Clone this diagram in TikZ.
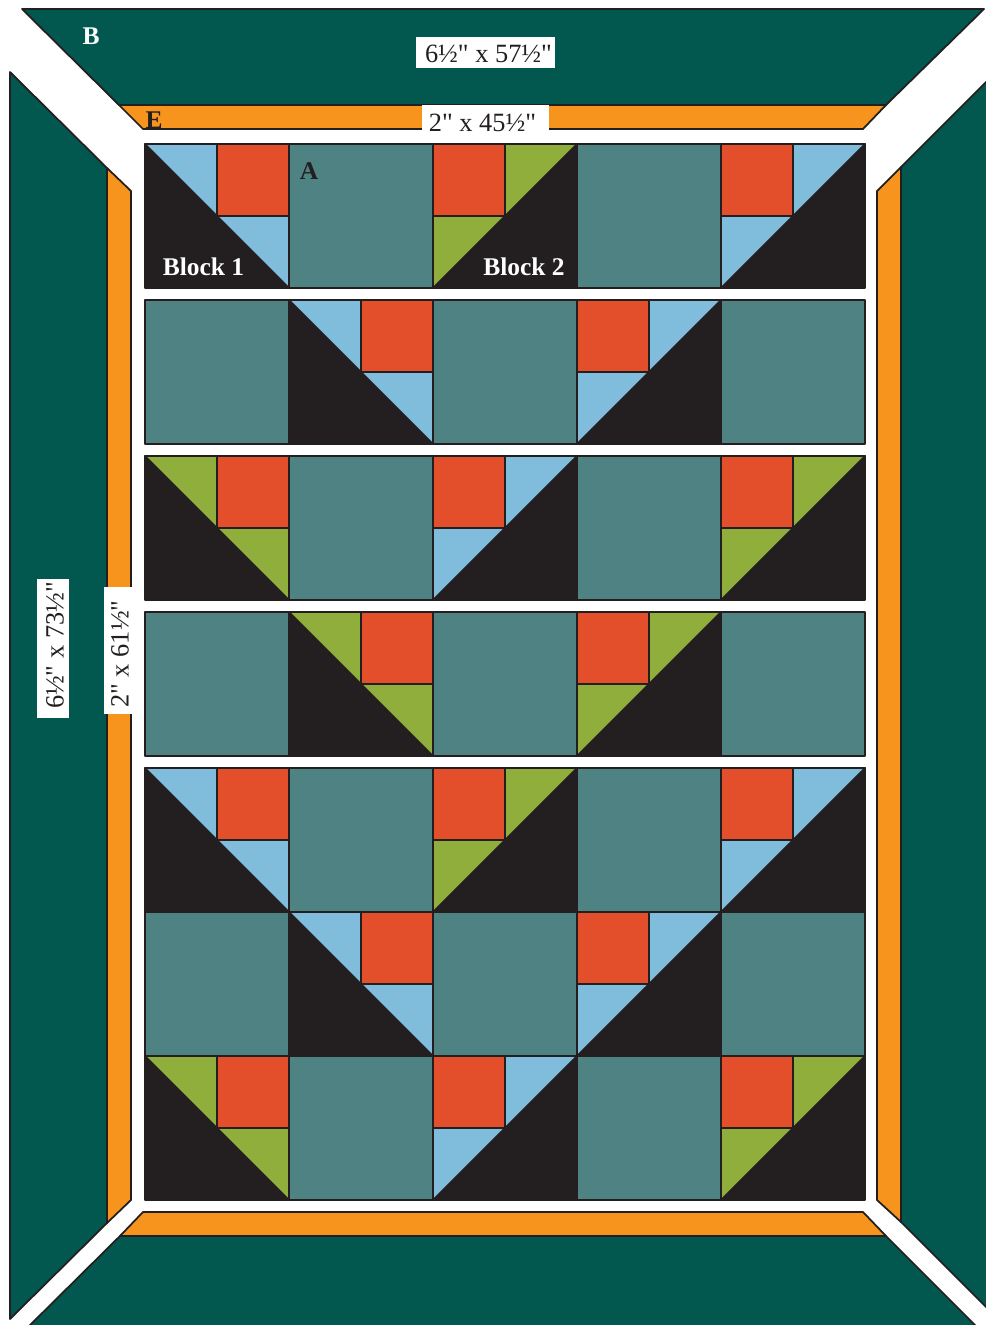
\documentclass[tikz,border=0pt]{standalone}
\usepackage{fontspec}
\setmainfont{Liberation Serif}
\newfontfamily\tagfont{Liberation Serif}
\definecolor{quiltdark}{HTML}{231F20}
\definecolor{quiltborder}{HTML}{02574F}
\definecolor{quiltorange}{HTML}{F7941E}
\definecolor{quiltteal}{HTML}{4F8283}
\definecolor{quiltred}{HTML}{E34E2B}
\definecolor{quiltblue}{HTML}{80BCDB}
\definecolor{quiltgreen}{HTML}{8FAE3C}
\tikzset{
  patch/.style={draw=quiltdark, line width=1pt, line join=round},
  tagbox/.style={fill=white, inner sep=0pt},
  sizetag/.style={inner sep=0pt, text=quiltdark, font=\tagfont\fontsize{15}{15}\selectfont},
  blocktag/.style={inner sep=0pt, font=\fontsize{14.5}{14.5}\selectfont\bfseries}
}
% Bloque con la esquina oscura abajo a la izquierda
\newcommand{\blockleft}[3]{
    \fill[patch, fill=quiltdark] (#1,#2) -- (#1+144,#2+144) -- (#1,#2+144) -- cycle;
    \fill[patch, fill=#3] (#1,#2) -- (#1+72,#2) -- (#1+72,#2+72) -- cycle;
    \fill[patch, fill=quiltred] (#1+72,#2) rectangle (#1+144,#2+72);
    \fill[patch, fill=#3] (#1+72,#2+72) -- (#1+144,#2+72) -- (#1+144,#2+144) -- cycle;
}
% Bloque con la esquina oscura abajo a la derecha
\newcommand{\blockright}[3]{
    \fill[patch, fill=quiltdark] (#1+144,#2) -- (#1+144,#2+144) -- (#1,#2+144) -- cycle;
    \fill[patch, fill=quiltred] (#1,#2) rectangle (#1+72,#2+72);
    \fill[patch, fill=#3] (#1+72,#2) -- (#1+144,#2) -- (#1+72,#2+72) -- cycle;
    \fill[patch, fill=#3] (#1,#2+72) -- (#1+72,#2+72) -- (#1,#2+144) -- cycle;
}
\begin{document}
\begin{tikzpicture}[x=0.02cm, y=-0.02cm]
    \clip (0,0) rectangle (986,1325);

    % Bordes exteriores
    \fill[patch, fill=quiltborder] (22,9) -- (984,9) -- (886,105) -- (119,105) -- cycle;
    \fill[patch, fill=quiltborder] (10,72) -- (107,168) -- (107,1223) -- (10,1319) -- cycle;
    \fill[patch, fill=quiltborder] (996,72) -- (901,167) -- (901,1222) -- (996,1317) -- cycle;
    \fill[patch, fill=quiltborder] (120,1236) -- (886,1236) -- (985,1335) -- (20,1335) -- cycle;

    % Bordes interiores
    \fill[patch, fill=quiltorange] (119,105) -- (886,105) -- (863,129) -- (143,129) -- cycle;
    \fill[patch, fill=quiltorange] (107,168) -- (131,191) -- (131,1200) -- (107,1223) -- cycle;
    \fill[patch, fill=quiltorange] (901,167) -- (877,191) -- (877,1200) -- (901,1222) -- cycle;
    \fill[patch, fill=quiltorange] (143,1212) -- (863,1212) -- (886,1236) -- (120,1236) -- cycle;

    % Cuadros lisos
    \foreach \x/\y in {
        289/144, 577/144,
        145/300, 433/300, 721/300,
        289/456, 577/456,
        145/612, 433/612, 721/612,
        289/768, 577/768,
        145/912, 433/912, 721/912,
        289/1056, 577/1056} {
        \fill[patch, fill=quiltteal] (\x,\y) rectangle (\x+144,\y+144);
    }

    % Bloques 1
    \foreach \x/\y/\tip in {
        145/144/quiltblue, 289/300/quiltblue,
        145/456/quiltgreen, 289/612/quiltgreen,
        145/768/quiltblue, 289/912/quiltblue,
        145/1056/quiltgreen} {
        \blockleft{\x}{\y}{\tip}
    }

    % Bloques 2
    \foreach \x/\y/\tip in {
        433/144/quiltgreen, 721/144/quiltblue,
        577/300/quiltblue,
        433/456/quiltblue, 721/456/quiltgreen,
        577/612/quiltgreen,
        433/768/quiltgreen, 721/768/quiltblue,
        577/912/quiltblue,
        433/1056/quiltblue, 721/1056/quiltgreen} {
        \blockright{\x}{\y}{\tip}
    }

    % Letras y nombres
    \node[blocktag, text=white] (labelB) at (91,36) {B};
    \node[blocktag, text=quiltdark] (labelE) at (154,120) {E};
    \node[blocktag, text=quiltdark] (labelA) at (309,171) {A};
    \node[blocktag, text=white] (blockone) at (203.5,267) {Block 1};
    \node[blocktag, text=white] (blocktwo) at (524,267) {Block 2};

    % Medidas
    \node[tagbox, minimum width=2.78cm, minimum height=0.62cm] (boxtop) at (485.5,52.5) {};
    \node[sizetag] (sizetop) at (488.5,53.5) {6½" x 57½"};
    \node[tagbox, minimum width=2.54cm, minimum height=0.52cm] (boxinner) at (485.5,118) {};
    \node[sizetag] (sizeinner) at (482.5,123) {2" x 45½"};
    \node[tagbox, minimum width=0.64cm, minimum height=2.78cm] (boxleft) at (53,648.5) {};
    \node[sizetag, rotate=90] (sizeleft) at (55,645.5) {6½" x 73½"};
    \node[tagbox, minimum width=0.56cm, minimum height=2.54cm] (boxside) at (118,650.5) {};
    \node[sizetag, rotate=90] (sizeside) at (120,654) {2" x 61½"};
\end{tikzpicture}
\end{document}
